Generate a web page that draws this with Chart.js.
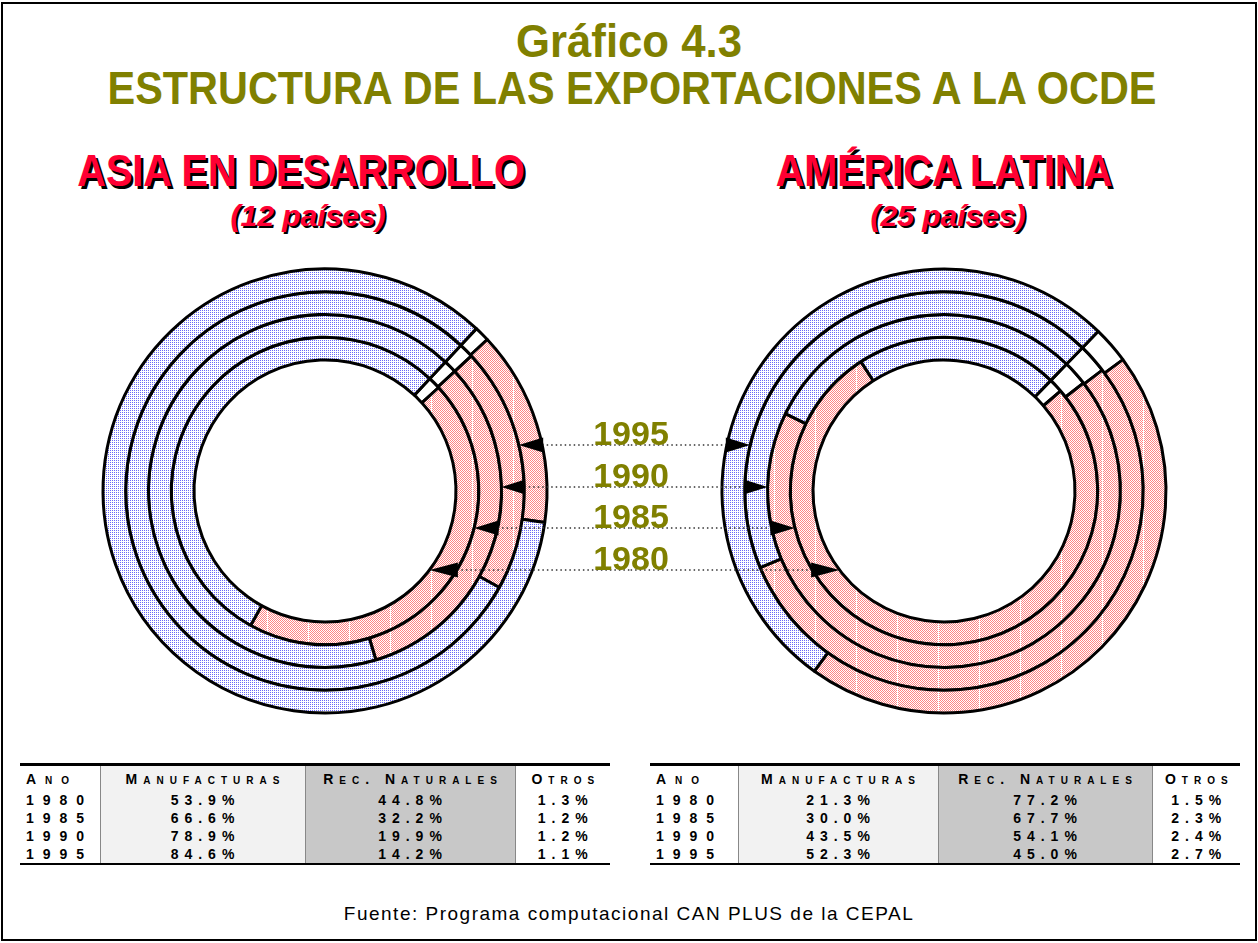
<!DOCTYPE html>
<html>
<head>
<meta charset="utf-8">
<script src="https://cdn.jsdelivr.net/npm/chart.js@4.4.0/dist/chart.umd.min.js"></script>
<style>
body{margin:0;width:1258px;height:943px;background:#fff;font-family:Arial,"Liberation Sans",sans-serif;position:relative;overflow:hidden}
.frame{position:absolute;left:1px;top:2px;width:1252px;height:935px;border:2px solid #000}
.t{position:absolute;white-space:nowrap;line-height:1;font-weight:bold}
.c{transform:translateX(-50%)}
.olive{color:#808000}
.head{color:#ff0033;font-size:45px;text-shadow:3px 3px 0 #000;transform:translateX(-50%) scaleX(0.88)}
.sub{color:#ff0033;font-size:30px;font-style:italic;text-shadow:2px 2px 0 #000}
.yr{font-size:34px;color:#808000;z-index:5}
canvas{position:absolute}
table{position:absolute;border-collapse:collapse;table-layout:fixed;font-weight:bold;font-size:14px;letter-spacing:6px;border-top:3px solid #000;border-bottom:2px solid #000}
th,td{text-align:center;padding:0 0 0 6px;border-left:1px solid #888;white-space:nowrap}
th:first-child,td:first-child{border-left:none;text-align:left;padding-left:6px;letter-spacing:9px}
th{font-variant:small-caps;height:25px;font-size:14px}
td{height:18px}
.m{background:#f2f2f2}
.r{background:#c8c8c8}
.foot{position:absolute;top:904px;left:629px;transform:translateX(-50%);font-size:19px;letter-spacing:1.5px;white-space:nowrap;line-height:1}
</style>
</head>
<body>
<div class="frame"></div>
<div class="t olive" style="left:629px;top:17px;font-size:47px;transform:translateX(-50%) scaleX(0.93)">Gráfico 4.3</div>
<div class="t olive" style="left:632px;top:65px;font-size:46px;transform:translateX(-50%) scaleX(0.9)">ESTRUCTURA DE LAS EXPORTACIONES A LA OCDE</div>
<div class="t head" style="left:301px;top:148px">ASIA EN DESARROLLO</div>
<div class="t head" style="left:944px;top:148px">AMÉRICA LATINA</div>
<div class="t c sub" style="left:308px;top:201px">(12 países)</div>
<div class="t c sub" style="left:948px;top:201px">(25 países)</div>

<canvas id="asia" width="630" height="490" style="left:0;top:250px;width:630px;height:490px"></canvas>
<canvas id="latam" width="628" height="490" style="left:630px;top:250px;width:628px;height:490px"></canvas>

<div class="t c yr" style="left:631px;top:416px">1995</div>
<div class="t c yr" style="left:631px;top:458px">1990</div>
<div class="t c yr" style="left:631px;top:499px">1985</div>
<div class="t c yr" style="left:631px;top:541px">1980</div>

<table id="tAsia" style="left:20px;top:763px"></table>
<table id="tLatam" style="left:650px;top:763px"></table>

<div class="foot">Fuente: Programa computacional CAN PLUS de la CEPAL</div>

<script>
// datos (porcentajes)
const years = ['1980', '1985', '1990', '1995'];
const columns = ['Ano', 'Manufacturas', 'Rec. Naturales', 'Otros'];
const asiaManuf = [53.9, 66.6, 78.9, 84.6];
const asiaRec = [44.8, 32.2, 19.9, 14.2];
const asiaOtros = [1.3, 1.2, 1.2, 1.1];
const latManuf = [21.3, 30.0, 43.5, 52.3];
const latRec = [77.2, 67.7, 54.1, 45.0];
const latOtros = [1.5, 2.3, 2.4, 2.7];

// offsets verticales de las flechas respecto al centro (1980..1995)
const arrowDy = [79, 37, -4, -46];

function makePattern(type) {
	const c = document.createElement('canvas');
	const ctx = c.getContext('2d');
	if (type == 'blue') {
		c.width = 2; c.height = 2;
		ctx.fillStyle = '#fff';
		ctx.fillRect(0, 0, 2, 2);
		ctx.fillStyle = '#6a6af8';
		ctx.fillRect(0, 0, 1, 1);
	} else {
		c.width = 82; c.height = 2;
		ctx.fillStyle = '#fff';
		ctx.fillRect(0, 0, 82, 2);
		ctx.fillStyle = '#ff8484';
		for (let x = 0; x < 82; x++) {
			if (x == 21 || x == 62) continue;
			ctx.fillRect(x, x % 2, 1, 1);
		}
	}
	return ctx.createPattern(c, 'repeat');
}

const bluePat = makePattern('blue');
const redPat = makePattern('red');

function buildDatasets(manuf, rec, otros) {
	const ds = [];
	for (let i = years.length - 1; i >= 0; i--) {
		ds.push({
			label: years[i],
			data: [otros[i], rec[i], manuf[i]],
			backgroundColor: ['#ffffff', redPat, bluePat],
			borderColor: '#000',
			borderWidth: 3
		});
	}
	return ds;
}

const arrowPlugin = {
	id: 'arrows',
	afterDatasetsDraw(chart, args, opts) {
		const ctx = chart.ctx;
		const side = opts.side;
		ctx.save();
		for (let k = 0; k < years.length; k++) {
			const meta = chart.getDatasetMeta(years.length - 1 - k);
			const arc = meta.data[0];
			const dy = arrowDy[k];
			const y = arc.y + dy;
			const xo = arc.x + side * Math.sqrt(arc.outerRadius * arc.outerRadius - dy * dy);
			const xi = arc.x + side * Math.sqrt(arc.innerRadius * arc.innerRadius - dy * dy);
			ctx.setLineDash([1.5, 3]);
			ctx.strokeStyle = '#333';
			ctx.lineWidth = 1.3;
			ctx.beginPath();
			ctx.moveTo(xo, y);
			ctx.lineTo(side > 0 ? chart.width : 0, y);
			ctx.stroke();
			ctx.setLineDash([]);
			ctx.fillStyle = '#000';
			ctx.beginPath();
			ctx.moveTo(xo + side, y - 7.5);
			ctx.lineTo(xo + side, y + 7.5);
			ctx.lineTo(xi, y);
			ctx.closePath();
			ctx.fill();
		}
		ctx.restore();
	}
};

function makeChart(id, manuf, rec, otros, side, rotation, padding) {
	return new Chart(document.getElementById(id), {
		type: 'doughnut',
		data: {
			labels: ['Otros', 'Rec. Naturales', 'Manufacturas'],
			datasets: buildDatasets(manuf, rec, otros)
		},
		options: {
			responsive: false,
			animation: false,
			rotation: rotation,
			radius: 222,
			cutout: '59%',
			layout: { padding: padding },
			plugins: {
				legend: { display: false },
				tooltip: { enabled: false },
				arrows: { side: side }
			}
		},
		plugins: [arrowPlugin]
	});
}

makeChart('asia', asiaManuf, asiaRec, asiaOtros, 1, 43, { left: 20, right: 0, top: 0, bottom: 8 });
makeChart('latam', latManuf, latRec, latOtros, -1, 44, { left: 0, right: 0, top: 0, bottom: 8 });

function buildTable(id, manuf, rec, otros, widths) {
	const t = document.getElementById(id);
	let html = '<colgroup>' + widths.map(w => '<col style="width:' + w + 'px">').join('') + '</colgroup>';
	html += '<tr>' + columns.map((c, j) => '<th class="' + (j == 1 ? 'm' : j == 2 ? 'r' : '') + '">' + c + '</th>').join('') + '</tr>';
	for (let i = 0; i < years.length; i++) {
		html += '<tr><td>' + years[i] + '</td><td class="m">' + manuf[i].toFixed(1) + '%</td><td class="r">' +
			rec[i].toFixed(1) + '%</td><td>' + otros[i].toFixed(1) + '%</td></tr>';
	}
	t.innerHTML = html;
	t.style.width = widths.reduce((a, b) => a + b, 0) + 'px';
}

buildTable('tAsia', asiaManuf, asiaRec, asiaOtros, [80, 205, 210, 95]);
buildTable('tLatam', latManuf, latRec, latOtros, [88, 200, 214, 88]);
</script>
</body>
</html>
